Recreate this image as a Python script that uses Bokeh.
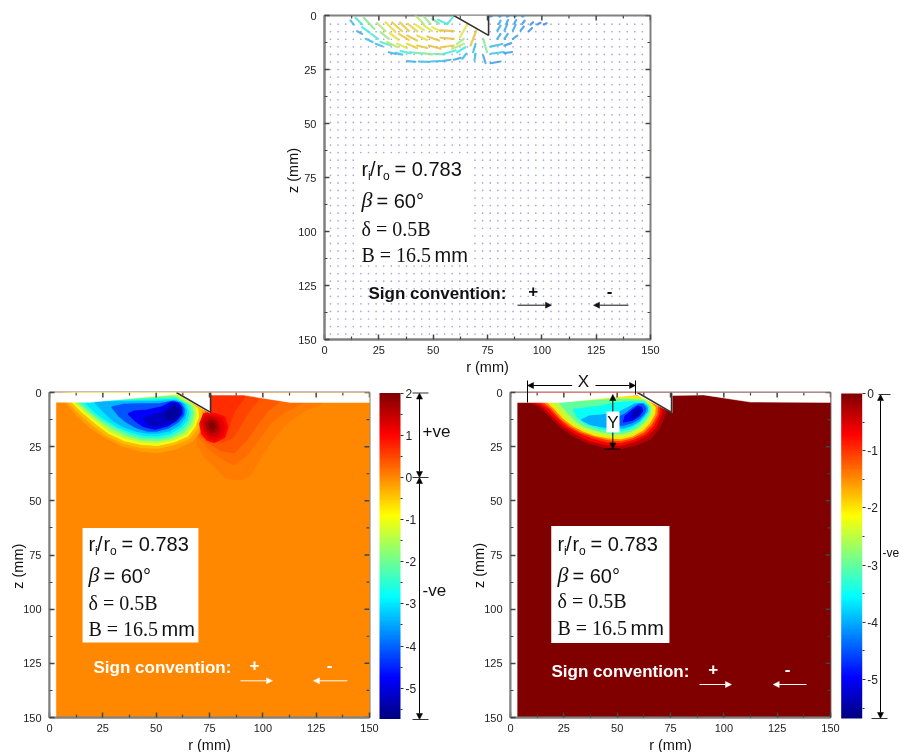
import numpy as np
from bokeh.embed import file_html
from bokeh.resources import INLINE
from bokeh.plotting import figure
from bokeh.models import (Range1d, FixedTicker, ColorBar, LinearColorMapper, Label, Arrow,
                          NormalHead, BoxAnnotation, ColumnDataSource)
from bokeh.transform import transform

# ---------- axis ticks
tick_major = [0, 25, 50, 75, 100, 125, 150]
tick_minor = [12.5, 37.5, 62.5, 87.5, 112.5, 137.5]

# ---------- velocity grid (mm)
grid_r = [2.75, 6.25, 9.75, 13.25, 16.75, 20.25, 23.75, 27.25, 30.75, 34.25, 37.75, 41.25, 44.75, 48.25,
          51.75, 55.25, 58.75, 62.25, 65.75, 69.25, 72.75, 76.25, 79.75, 83.25, 86.75, 90.25, 93.75, 97.25,
          100.75, 104.25, 107.75, 111.25, 114.75, 118.25, 121.75, 125.25, 128.75, 132.25, 135.75, 139.25,
          142.75, 146.25]
grid_z = [4, 7.5, 11, 14.5, 18, 21.5, 25, 28.5, 32, 35.5, 39, 42.5, 46, 49.5, 53, 56.5, 60, 63.5, 67, 70.5,
          74, 77.5, 81, 84.5, 88, 91.5, 95, 98.5, 102, 105.5, 109, 112.5, 116, 119.5, 123, 126.5, 130, 133.5,
          137, 140.5, 144, 147.5]

# ---------- velocity vectors: tail r, tail z, delta r, delta z, speed
q_r = [12, 14.3, 18.1, 17.3, 21.5, 25.8, 24.2, 28.1, 31.1, 34.7, 38.4, 41.9, 45.7, 49.6, 41.9, 45.7, 49.6, 53.4,
       25.8, 30, 34.2, 38, 42.6, 47.3, 53.4, 28.8, 33.4, 38, 42.6, 48, 53.4, 58.8, 65.7, 69.8, 73, 64.1,
       35, 39.6, 44.9, 50.3, 54.9, 61, 69.5, 65.2, 69.5, 73, 76.4, 76.4, 76.4, 82.8, 82.8,
       79.5, 82.8, 86.7, 79.5, 82.8, 86.7, 90.2, 94, 80.2, 83.8, 87.4, 91, 94.8, 97.9, 101,
       76.4, 80.5, 84, 87.4, 91, 52.2, 56.5, 29.6, 32.7, 38, 43.4, 48.8, 54.2, 59.5, 19, 23.5, 15]
q_z = [2.3, 1.1, 1.1, 5.4, 8.5, 12.3, 3.5, 3.1, 3.1, 3.2, 3.9, 0, 0.5, 1.5, 4.2, 4.6, 5.4, 6.9,
       7.7, 8.2, 8.5, 9.3, 9.3, 9.7, 10.3, 12.3, 13.1, 13.1, 13.9, 13.9, 14.7, 15.4, 4.2, 7, 10.8, 10.8,
       16.5, 17, 17.4, 17.7, 17.7, 17, 13.1, 17.7, 17.7, 18.5, 14.4, 17.7, 22.1, 13.9, 17.4,
       10.8, 10.8, 10.8, 7, 7, 7, 7, 7.3, 3.9, 3.6, 3.6, 3.9, 4.2, 4.2, 4.2,
       0.5, 0.5, 0.5, 0.5, 0.5, 2, 3.9, 17, 17.3, 21.1, 21.3, 21.3, 21.1, 20.5, 10.8, 13.1, 7.3]
q_dr = [1.5, 3.1, 4.9, 3.5, 3.1, 4.6, 3.8, 4.6, 4.6, 4.1, 4.3, 3.8, 3.1, 3.1, 3.8, 3.8, 3.8, 6.1,
        3.8, 4.1, 4.6, 4.6, 4.6, 5.4, 6.1, 4.6, 4.6, 4.6, 4.6, 5.4, 6.1, 5.4, -3.4, -2.6, 1.8, -3.1,
        4.6, 4.6, 4.6, 4.6, 5.4, 3.8, -1.1, -1.8, -0.5, 1.1, 5.4, 6.1, 4.6, 3.1, 3.5,
        1.5, 1.5, 2, 1.5, 1.2, 1.2, 1.5, 1.5, 0.8, 0.6, 0.8, 1.1, 1.2, 1.5, 1.2,
        0.6, 0.6, 0.6, 0.6, 0.6, 4.3, 2.8, 3.1, 3.1, 3.8, 4.6, 4.6, 3.8, 3.1, 3.1, 3.1, 2.3]
q_dz = [1.9, 3.1, 5.1, 2.5, 2.3, 1.5, 3.7, 4.6, 4.2, 4, 3.4, 3.9, 3.4, 2.3, 2.5, 2.6, 1.9, 0.3,
        3.1, 3.1, 2.8, 2.3, 2, 1.9, 0.5, 2.3, 1.9, 2, 1.1, 1.5, -0.8, -2.3, 5.9, 6.9, 6.2, 2.3,
        0.9, 0.5, 0.6, 0.3, -1.5, -2.3, 3.9, 2.3, 3.1, 3.5, -1.2, -0.8, -0.8, -1.1, -0.5,
        -2.3, -2.3, -1.5, -2.3, -2.8, -2.8, -1.9, -1.5, -1.5, -1.5, -1.5, -1.5, -1.1, -0.8, -0.6,
        -0.3, -0.3, -0.3, -0.3, -0.3, 1.9, -3.4, 0.8, 0.8, 0.3, 0.2, -0.2, -0.6, -0.9, 1.5, 1.1, 1.2]
q_speed = [.2, .33, .47, .3, .33, .35, .55, .68, .72, .72, .7, .55, .5, .42, .65, .62, .65, .74,
           .5, .68, .72, .72, .68, .74, .74, .55, .62, .7, .72, .74, .72, .55, .66, .73, .45, .5,
           .33, .4, .47, .42, .33, .3, .2, .2, .2, .15, .2, .22, .14, .14, .14,
           .16, .16, .15, .16, .16, .16, .14, .12, .16, .14, .14, .12, .1, .1, .1,
           .12, .12, .12, .12, .12, .33, .33, .18, .22, .18, .2, .2, .18, .15, .2, .2, .16]

# ---------- contour levels and outlines (left panel)
left_levels = [-0.02, 0.08, 0.2, 0.35, 0.5, 0.7, -0.2, -0.4, -1, -1.5, -2, -2.5, -3, -3.4, -4.1, -4.8, -5.2, -5.5, 1.0, 1.2, 1.45, 1.7, 1.95]
left_r = [
    [3, 150, 150, 3],
    [69.4, 72.5, 77.2, 82.7, 88.1, 93.6, 98.3, 104.6, 111.3, 119.4, 128, 128, 70],
    [70.2, 74.9, 81.1, 86.6, 92, 97.5, 103.8, 110, 118.6, 118.6, 72],
    [70.9, 75.6, 81.1, 86.6, 92, 97.5, 102.2, 108.4, 108.4, 75.6],
    [71.7, 76.4, 81.1, 85.8, 89.7, 93.6, 97.5, 97.5, 77.2],
    [72.5, 77.2, 81.9, 84.2, 86.6, 91.3, 91.3, 76],
    [6.7, 13, 19.2, 26.3, 34.1, 42.7, 50.5, 59.9, 66.9, 70.5, 72.4, 72.4, 59.6, 6.7],
    [8.3, 14.2, 20.8, 27.1, 34.9, 42.7, 50.5, 58.3, 65.4, 69.3, 71.1, 71.1, 59.6, 8.3],
    [10.6, 15.3, 21.6, 27.8, 34.9, 42.7, 50.5, 58.3, 64.6, 68, 69.6, 69.3, 59.1, 10.6],
    [12.2, 16.9, 22.7, 28.6, 35.6, 42.7, 50.5, 57.5, 63.8, 67.2, 68.6, 67.7, 59.1, 42.7, 27.1, 12.2],
    [13.3, 18.5, 23.9, 29.9, 36.4, 43.5, 50.5, 57.1, 63, 66.1, 67.4, 66.5, 58.3, 42.7, 27.1, 13.3],
    [14.9, 20, 25.5, 31, 37.2, 43.5, 50.5, 56.8, 62.2, 65, 66.1, 65.4, 59.1, 42.7, 27.1, 14.9],
    [16.9, 21.6, 27.1, 32.1, 38, 44.3, 50.5, 56.4, 61.4, 64.3, 65, 63.8, 59.1, 42.7, 28.6, 16.9],
    [21.6, 25.5, 30.2, 34.9, 40.3, 45.8, 50.5, 56, 60.7, 63.3, 64, 62.7, 59.1, 47.4, 33.3, 21.6],
    [29.4, 32.5, 36.4, 41.1, 45.8, 50.5, 55.5, 59.9, 62.7, 63, 61.4, 58.3, 52, 42.7, 34.9],
    [37.2, 40.3, 44.3, 49.7, 55.2, 59.1, 61.9, 61.9, 60.2, 57.5, 52.8, 45.8, 39.6],
    [44.3, 46.6, 50.5, 56, 59.9, 61.4, 60.7, 58, 54.9, 49.7],
    [55.2, 58.3, 60.7, 59.9, 58, 56, 54.4],
    [70.6, 71.5, 74, 77.2, 81.9, 83.4, 81.9, 77.2, 72.5],
    [71.2, 72.5, 75, 77.5, 81, 82, 80.5, 76.5, 73],
    [72.3, 73.2, 75.5, 78, 79.8, 79.5, 78, 74.8],
    [73.5, 74.3, 76, 77.8, 78.6, 77.6, 75.5],
    [74.9, 75.6, 76.6, 77.2, 76.6, 75.6],
]
left_z = [
    [0, 0, 150, 150],
    [23.7, 29.1, 33.7, 39.1, 40.3, 38.3, 30.6, 21.4, 13.7, 8.3, 4.6, 0.6, 0.6],
    [20.6, 26, 30.6, 33, 29.1, 22.1, 13.7, 9.1, 4.6, 0.6, 0.6],
    [19.8, 23.7, 26.8, 27.6, 22.1, 14.5, 8.3, 3.7, 0.6, 0.6],
    [19.1, 22.1, 22.9, 20.6, 14.5, 8.3, 3.7, 0.6, 0.6],
    [18.3, 21.4, 20.6, 14.5, 8.3, 2.2, 0.6, 0.6],
    [3, 10.6, 16, 20.6, 24.5, 26.8, 27.6, 25.7, 22.2, 17.6, 12.2, 7.6, -0.9, -0.9],
    [3.7, 9.7, 15.3, 19.9, 23.3, 25.1, 25.6, 23.9, 21.1, 16.5, 11.9, 7.6, -0.9, -0.9],
    [4.2, 8.8, 14, 18.6, 21.9, 23.7, 24.2, 22.6, 19.9, 15.6, 11, 7.6, 0.2, 0.2],
    [4.2, 8.8, 13.4, 17.7, 20.8, 22.6, 23.1, 21.7, 19.1, 15, 10.3, 6.3, 1.1, 2.2, 3.3, 3.7],
    [4.5, 8.8, 13, 16.8, 19.9, 21.6, 22, 20.8, 18, 14, 9.9, 6.3, 2, 3, 3.9, 4.2],
    [4.5, 9.1, 13, 16, 18.8, 20.5, 20.9, 19.9, 16.8, 13.4, 9.4, 6.3, 2.6, 3.4, 4.2, 4.2],
    [4.5, 9.1, 12.8, 15.6, 18, 19.6, 19.9, 18.8, 15.9, 12.5, 9.1, 5.7, 3.4, 3.9, 4.2, 4.2],
    [4.8, 8.8, 13, 15.6, 17.6, 18.6, 18.6, 17.6, 15, 11.6, 8.5, 5.4, 3.9, 4.5, 4.5, 4.5],
    [6.8, 10.6, 13.7, 16.2, 17.6, 17.6, 16.3, 13.7, 10.6, 7.9, 5.1, 4.2, 5.3, 5.4, 5.7],
    [9.9, 13, 15.6, 16.8, 15.3, 13, 9.9, 7.3, 5.1, 4.5, 6.8, 8.3, 8.8],
    [12.2, 15, 15.6, 14, 11.9, 9.1, 6.3, 5.1, 7.9, 10.3],
    [12.2, 12.2, 9.9, 7.3, 6.3, 8.3, 10.6],
    [14.5, 19, 21.8, 22.9, 20.6, 16, 11.4, 9.8, 9.8],
    [13.5, 18, 20.8, 21.8, 19.8, 15.8, 12, 10.6, 10.6],
    [13.5, 17.5, 19.8, 20.2, 17.5, 14, 12.2, 11.3],
    [14.2, 16.8, 18.4, 18, 15.5, 13.3, 12.6],
    [14.8, 16.3, 17.2, 15.8, 14.4, 14],
]

# ---------- right panel contours
right_levels = [0, -0.3, -0.7, -1, -1.5, -2, -2.5, -3, -3.5, -4, -4.5, -5, -5.4]
right_r = [
    [3, 150, 150, 3],
    [7.8, 13.3, 18.8, 23.4, 28.9, 35.9, 43.8, 51.6, 59.4, 65.6, 69.5, 72.2, 73.1, 59.4, 7.8],
    [10.9, 15.6, 20.3, 25, 30.5, 36.7, 44.5, 51.6, 58.6, 64.1, 68, 70.3, 71.1, 60.2, 10.9],
    [13.3, 18, 21.9, 26.6, 32, 38.3, 45.3, 51.6, 57.8, 63.3, 66.9, 69.2, 69.8, 60.2, 13.3],
    [15.3, 19.5, 23.4, 28.1, 33.1, 39.1, 45.8, 51.6, 57.5, 62.5, 65.9, 68.3, 68.8, 61.7, 46.9, 31.3, 15.3],
    [17.2, 21.1, 25, 29.7, 34.4, 39.8, 46.1, 51.6, 57, 61.7, 65, 67.3, 67.7, 62.5, 46.9, 31.3, 17.2],
    [19.5, 23.4, 27.3, 31.3, 35.6, 40.6, 46.6, 51.6, 56.6, 60.9, 64.1, 66.4, 66.4, 62.5, 46.9, 31.3, 19.5],
    [23.4, 27.3, 31.3, 35.2, 41.4, 46.9, 51.6, 56.3, 60.2, 63.3, 65.3, 65.3, 62.5, 54.7, 43.8, 31.3],
    [29.7, 32, 35.9, 42.2, 47.7, 52.3, 56.3, 59.8, 62.8, 64.7, 64.5, 62.5, 56.3, 50, 42.2, 35.9],
    [33.6, 37.5, 43, 48.4, 53.1, 57, 60.2, 62.5, 64.1, 63.8, 62.2, 58.6, 54.7, 50, 42.2, 36.7],
    [46.9, 52.3, 57, 60.2, 62.5, 63.3, 62.2, 60.2, 57, 53.9, 50],
    [53.1, 57, 60.2, 61.7, 61.3, 59.7, 57, 53.9],
    [57, 59.7, 60.9, 59.7, 57.8],
]
right_z = [
    [0, 0, 150, 150],
    [3.9, 6, 11.1, 15.7, 19.6, 23, 25.1, 25.7, 23.9, 21.1, 16.5, 10.3, 5.7, -1.2, -1.2],
    [3.9, 6.5, 11.1, 15.3, 18.8, 21.9, 23.9, 24.2, 22.3, 19.6, 15.7, 10.3, 5.7, -0.1, -0.1],
    [3.9, 7, 11.1, 15.3, 18.3, 20.8, 22.6, 23, 21.4, 18.8, 15, 10.3, 6, 0.5, 0.5],
    [3.9, 7.3, 11.6, 15.3, 18, 20, 21.6, 22, 20.5, 18, 14.6, 10.3, 6.5, 1.1, 1.7, 3, 3.6],
    [4.2, 7.6, 11.9, 15.3, 17.7, 19.6, 20.8, 21.1, 19.9, 17.4, 14, 10, 7, 2, 2.3, 3.4, 3.9],
    [4.5, 8.5, 12.6, 15.3, 17.1, 18.8, 19.9, 20, 19, 16.5, 13.4, 9.6, 7, 3, 3.1, 3.9, 4.2],
    [5.1, 9.6, 13.4, 15.7, 17.7, 18.8, 18.8, 17.7, 15.6, 12.6, 9.1, 6.6, 3.9, 3.3, 3.7, 4.5],
    [8, 11.9, 14.6, 16.5, 17.4, 17.4, 16.5, 14.3, 11.6, 8.8, 6.5, 4.7, 4.5, 5, 6.5, 7.3],
    [12.6, 14.6, 15.7, 16.2, 16.2, 15, 13.1, 10.6, 8.5, 6.5, 5.3, 5.4, 7.3, 9.6, 10.6, 11.1],
    [14.2, 15, 13.7, 11.9, 9.6, 7.6, 5.7, 5.7, 7.6, 10, 11.9],
    [13.4, 12.6, 10.6, 8.5, 7, 6.5, 8.5, 11.1],
    [11.9, 10, 8.2, 7.6, 9.1],
]

# ---------- free surface + indenter outlines
air_left_r = [0, 150, 150, 113, 91, 76, 75.3, 75.3, 60, 42.7, 19, 3, 3, 0]
air_left_z = [0, 0, 4.6, 4.6, 1.2, 1.2, 0, 9.5, 0.8, 2.3, 4.5, 4.5, 150, 150]
air_right_r = [0, 150, 150, 112.5, 90.6, 75.8, 75.8, 75.8, 59.4, 46.9, 23.4, 3.1, 3.1, 0]
air_right_z = [0, 0, 4.6, 4.4, 1.1, 1.4, 0, 9.3, 1.1, 2.3, 4.65, 4.65, 150, 150]
wedge_r = [59.5, 75.5, 75.5]
wedge_z = [0, 9.2, 0]

cbar_left = [-5, -4, -3, -2, -1, 0, 1, 2]
cbar_left_minor = [-5.5, -4.5, -3.5, -2.5, -1.5, -0.5, 0.5, 1.5]
cbar_right = [-5, -4, -3, -2, -1, 0]
cbar_right_minor = [-5.5, -4.5, -3.5, -2.5, -1.5, -0.5]
ABC = "Liberation Sans"
SERIF = "Liberation Serif"
BLUR = "blur(0.6px)"
PAGE_W, PAGE_H = 900, 752

# jet colour table
_pos = [0, 1/8, 3/8, 5/8, 7/8, 1]
_rgb = np.array([[0, 0, 128], [0, 0, 255], [0, 255, 255], [255, 255, 0], [255, 0, 0], [128, 0, 0]], float)
_t = np.linspace(0, 1, 256)
jet_rgb = np.array([[np.interp(t, _pos, _rgb[:, k]) for k in range(3)] for t in _t])
jet = ["#%02x%02x%02x" % tuple(int(round(c)) for c in rgb) for rgb in jet_rgb]
soft = ["#%02x%02x%02x" % tuple(int(round(c * 0.72 + 255 * 0.18)) for c in rgb) for rgb in jet_rgb]


def style(ax):
    ax.ticker = FixedTicker(ticks=tick_major, minor_ticks=tick_minor)
    ax.axis_line_color = "#808080"
    ax.axis_line_width = 2
    ax.major_tick_in = 5
    ax.major_tick_out = 0
    ax.minor_tick_in = 3
    ax.minor_tick_out = 0
    ax.major_tick_line_color = "#444444"
    ax.minor_tick_line_color = "#444444"
    ax.major_tick_line_width = 1.5
    ax.minor_tick_line_width = 1.2
    ax.major_label_text_font = ABC
    ax.major_label_text_font_size = "11px"
    ax.major_label_text_color = "#222222"


def base(x, y, fw, fh, x_standoff):
    bl, br, bt, bb = 40, 10, 10, 24
    p = figure(frame_width=fw, frame_height=fh, x_range=Range1d(0, 150), y_range=Range1d(150, 0),
               toolbar_location=None, output_backend="svg", min_border_left=bl, min_border_right=br,
               min_border_top=bt, min_border_bottom=bb, x_axis_location="below", y_axis_location="left",
               styles={"position": "absolute", "left": f"{x - bl}px", "top": f"{y - bt}px", "filter": BLUR})
    p.outline_line_color = "#808080"
    p.outline_line_width = 2
    p.grid.visible = False
    p.background_fill_color = "white"
    p.border_fill_color = None
    for ax in [p.xaxis[0], p.yaxis[0]]:
        style(ax)
    p.xaxis[0].major_label_standoff = x_standoff
    p.yaxis[0].major_label_standoff = 8
    return p


def frame_ticks(p):
    sx = 150 / p.frame_width
    sy = 150 / p.frame_height
    p.segment(tick_major, [0] * 7, tick_major, [5 * sy] * 7, line_color="#444444", line_width=1.5)
    p.segment(tick_minor, [0] * 6, tick_minor, [3 * sy] * 6, line_color="#444444", line_width=1.2)
    p.segment([150] * 7, tick_major, [150 - 5 * sx] * 7, tick_major, line_color="#444444", line_width=1.5)
    p.segment([150] * 6, tick_minor, [150 - 3 * sx] * 6, tick_minor, line_color="#444444", line_width=1.2)


def wedge(p):
    p.line(wedge_r, wedge_z, line_color="#333333", line_width=1.6)


def field(p, levels, rs, zs, air_r, air_z, mapper):
    src = ColumnDataSource(dict(xs=rs, ys=zs, level=levels))
    p.patches("xs", "ys", source=src, fill_color=transform("level", mapper),
              line_color=transform("level", mapper), line_width=2, line_join="round")
    p.patch(air_r, air_z, fill_color="white", line_color="white", line_width=0.5)
    wedge(p)
    frame_ticks(p)


# ---------- overlay, page-pixel annotations outside the frames
ov = figure(width=PAGE_W, height=PAGE_H, x_range=Range1d(0, PAGE_W), y_range=Range1d(PAGE_H, 0),
            toolbar_location=None, output_backend="svg", x_axis_type=None, y_axis_type=None, min_border=0,
            styles={"position": "absolute", "left": "0px", "top": "0px", "filter": BLUR})
ov.outline_line_color = None
ov.grid.visible = False
ov.background_fill_color = None
ov.border_fill_color = None


def text(x, y, s, size=20, font=ABC, fstyle="normal", color="#111111", align="left", angle=0, baseline="alphabetic"):
    # labels sit about a third of their size below the requested baseline
    if baseline == "alphabetic":
        y = y - 0.35 * size
    ov.add_layout(Label(x=x, y=y, text=s, text_font=font, text_font_size=f"{size}px", text_font_style=fstyle,
                        text_color=color, text_align=align, text_baseline=baseline, angle=angle, angle_units="deg"))


def arrow(x0, y0, x1, y1, color="black", w=1, head=6, start=False, end=True):
    h = lambda: NormalHead(size=head, fill_color=color, line_color=color, line_width=0.5)
    ov.add_layout(Arrow(x_start=x0, y_start=y0, x_end=x1, y_end=y1, line_color=color, line_width=w,
                        start=h() if start else None, end=h() if end else None))


def annotation(rx, base_ys):
    y1, y2, y3, y4 = base_ys
    text(rx, y1, "r")
    text(rx + 6.5, y1 + 5, "i", size=12)
    text(rx + 8.5, y1, "/")
    text(rx + 15, y1, "r")
    text(rx + 21.5, y1 + 5, "o", size=12)
    text(rx + 33, y1, "= 0.783")
    text(rx, y2, "\u03b2", size=22, font=SERIF, fstyle="italic")
    text(rx + 15, y2, "= 60\u00b0")
    text(rx, y3, "\u03b4 = 0.5B", font=SERIF)
    text(rx, y4, "B = 16.5", font=SERIF)
    text(rx + 73, y4, "mm")


def sign(color, rx, ybase, plus_x, minus_x, ya, a, b, c, d):
    text(rx, ybase, "Sign convention:", size=17, fstyle="bold", color=color)
    text(plus_x, ybase - 3, "+", size=17, fstyle="bold", color=color, align="center")
    text(minus_x, ybase - 3, "-", size=17, fstyle="bold", color=color, align="center")
    arrow(a, ya, b, ya, color=color)
    arrow(c, ya, d, ya, color=color)


def colorbar(x, y_top, h, mapper, ticks, minors):
    cb = ColorBar(color_mapper=mapper, ticker=FixedTicker(ticks=ticks, minor_ticks=minors), width=21,
                  height=h, margin=0, padding=0, major_tick_in=0, major_tick_out=3, minor_tick_in=0,
                  minor_tick_out=2, major_tick_line_color="#333333", minor_tick_line_color="#333333",
                  bar_line_color=None, label_standoff=2, major_label_text_font=ABC,
                  major_label_text_font_size="12px", major_label_text_color="#222222",
                  major_label_overrides={t: str(t) for t in ticks},
                  location=(x, PAGE_H - y_top - h))
    ov.add_layout(cb)


# ---------- top: velocity vectors
top = base(324, 15, 326, 324, 6)
gx, gz = np.meshgrid(grid_r, grid_z)
top.scatter(gx.ravel(), gz.ravel(), size=1.7, color="#6a6ad8", alpha=0.6, line_color=None)
speed_mapper = LinearColorMapper(palette=soft, low=-0.25, high=1.2)
q_src = ColumnDataSource(dict(x0=q_r, y0=q_z, x1=[a + b for a, b in zip(q_r, q_dr)],
                              y1=[a + b for a, b in zip(q_z, q_dz)], s=q_speed))
top.segment("x0", "y0", "x1", "y1", source=q_src, line_color=transform("s", speed_mapper), line_width=2.2,
            line_alpha=0.8, line_cap="round")
top.patch([59.5, 75.5, 75.5], [0, 9.2, 0], fill_color="white", line_color=None)
wedge(top)
frame_ticks(top)
top.add_layout(BoxAnnotation(left=15.2, right=68.6, top=63.9, bottom=114.8, fill_color="white", fill_alpha=1,
                             line_color=None))
annotation(361, (175, 207, 235, 261))
sign("#111111", 368, 299, 532.7, 609, 304.7, 517, 551, 628, 593)
text(292, 170, "z (mm)", size=14.5, align="center", angle=90, baseline="middle")
text(487, 366, "r (mm)", size=14.5, align="center", baseline="middle")

# ---------- bottom left
lm = LinearColorMapper(palette=jet, low=-5.73, high=2)
pl = base(49, 392, 320, 325, 6)
field(pl, left_levels, left_r, left_z, air_left_r, air_left_z, lm)
colorbar(379, 392.5, 326, lm, cbar_left, cbar_left_minor)
pl.add_layout(BoxAnnotation(left=15.5, right=69.8, top=62.5, bottom=115.4, fill_color="white", fill_alpha=1,
                            line_color=None))
annotation(88, (550, 582, 609, 635))
sign("white", 93, 673, 254, 329, 680.3, 240, 272, 346.7, 313)
text(17, 565.7, "z (mm)", size=14.5, align="center", angle=90, baseline="middle")
text(209, 744, "r (mm)", size=14.5, align="center", baseline="middle")
arrow(419, 477, 419, 392.5, start=True)
arrow(419, 477, 419, 719, start=True)
for yy in [392.5, 477, 719]:
    arrow(412, yy, 428, yy, end=False, color="#333333")
text(422, 437, "+ve", size=17)
text(422, 596, "-ve", size=17)

# ---------- bottom right
rm = LinearColorMapper(palette=jet, low=-5.68, high=0)
pr = base(510, 392, 320, 325, 6)
field(pr, right_levels, right_r, right_z, air_right_r, air_right_z, rm)
colorbar(840.7, 393, 325, rm, cbar_right, cbar_right_minor)
pr.add_layout(BoxAnnotation(left=19.1, right=74.5, top=61.6, bottom=115.6, fill_color="white", fill_alpha=1,
                            line_color=None))
annotation(557, (550, 582, 607, 634))
sign("white", 551, 677, 712.7, 787, 684, 699, 731, 806, 772.7)
text(478, 565, "z (mm)", size=14.5, align="center", angle=90, baseline="middle")
text(670, 744, "r (mm)", size=14.5, align="center", baseline="middle")
arrow(880, 718, 880, 394, start=True)
arrow(878, 394, 890, 394, end=False, color="#333333")
arrow(871, 718, 887, 718, end=False, color="#333333")
text(882, 557, "-ve", size=12)
# X and Y dimensions
arrow(571.7, 385, 527, 385)
arrow(595, 385, 635, 385)
arrow(527, 380, 527, 402, end=False)
arrow(635, 380, 635, 394, end=False)
text(583, 387, "X", size=17, align="center")
arrow(612.3, 394, 612.3, 448.5, start=True)
arrow(604, 448.5, 620, 448.5, end=False)
ov.add_layout(BoxAnnotation(left=606, right=619, top=411, bottom=432, fill_color="white", fill_alpha=1, line_color=None))
text(612.5, 428, "Y", size=17, align="center")

open("out.html", "w").write(file_html([top, pl, pr, ov], INLINE))
